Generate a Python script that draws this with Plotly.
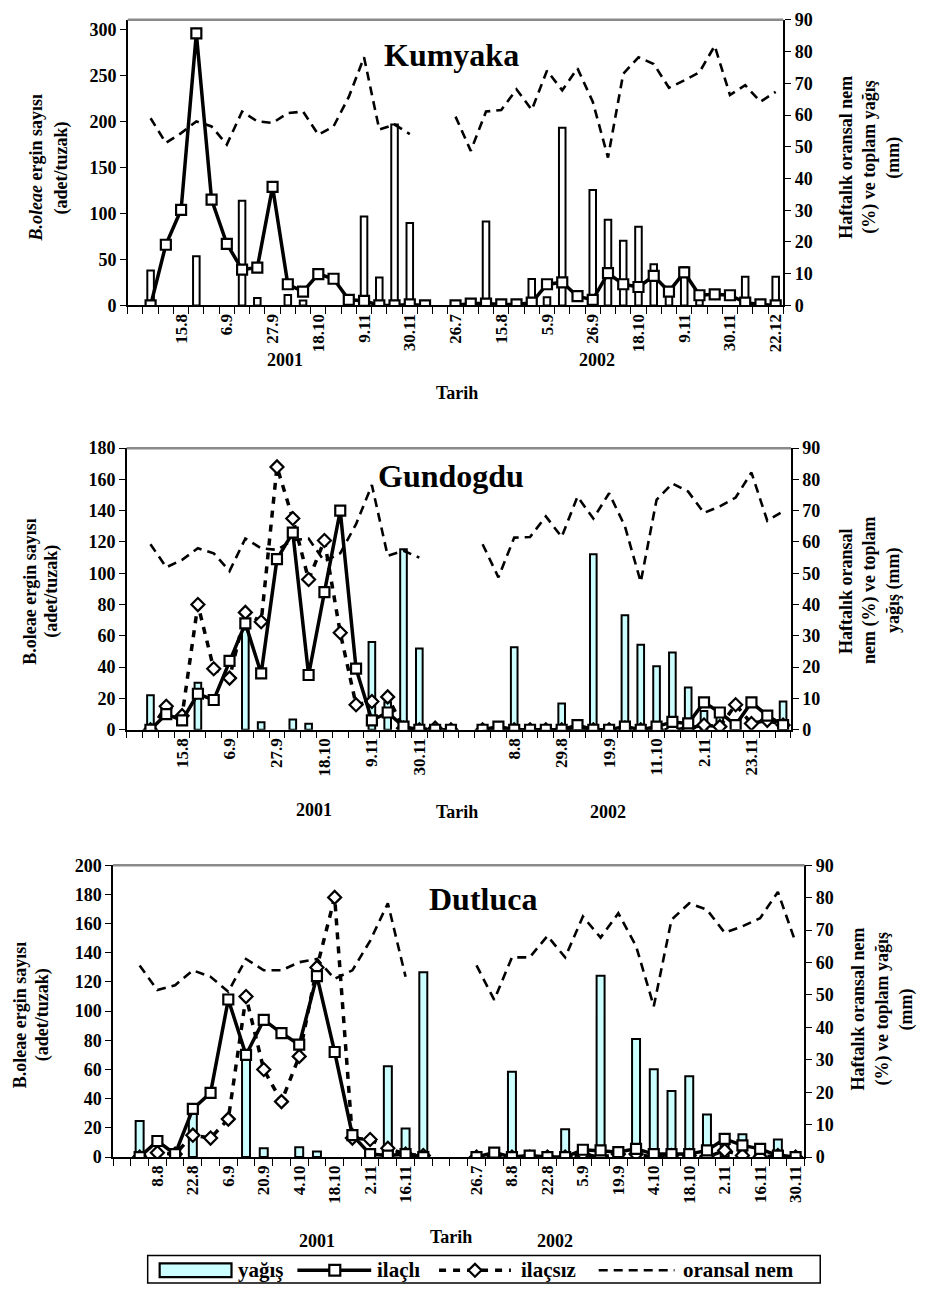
import plotly.graph_objects as go

FONT = "Liberation Serif, Times New Roman, serif"
W, H = 932, 1297

# ---------------- data ----------------
# Kumyaka (2001: 19 weeks, 2002: 22 weeks)
k_lab_2001 = ["", "", "15.8", "", "", "6.9", "", "", "27.9", "", "", "18.10", "", "", "9.11", "", "", "30.11", ""]
k_lab_2002 = ["26.7", "", "", "15.8", "", "", "5.9", "", "", "26.9", "", "", "18.10", "", "", "9.11", "", "", "30.11", "", "", "22.12"]
k_ilacli_2001 = [0, 66, 104, 296, 115, 67, 39, 41, 129, 23, 15, 34, 29, 6, 5, 0, 0, 1, 0]
k_ilacli_2002 = [0, 2, 2, 1, 1, 3, 23, 25, 10, 6, 35, 23, 20, 32, 15, 36, 11, 12, 11, 3, 1, 0]
k_yagis_2001 = [11, 0, 0, 15.5, 0, 0, 33, 2.3, 0, 3.3, 1.5, 0, 0, 0, 28, 8.8, 57, 26, 0]
k_yagis_2002 = [0, 0, 26.4, 0, 0, 8.3, 2.6, 56, 0, 36.4, 27, 20.4, 24.8, 13, 5, 12, 2, 0, 0, 9, 0, 9]
k_nem_2001 = [59, 51.2, 54.3, 58, 56.4, 50.7, 61.1, 58, 57.5, 60.6, 61.1, 53.8, 56.4, 65.7, 78.2, 55.4, 57, 54, None]
k_nem_2002 = [59.5, 48.7, 61.1, 61.6, 68.1, 61.6, 74, 67.8, 74.7, 64.2, 46.6, 73, 78.2, 76.1, 68.6, 70.9, 73.5, 81.8, 66.3, 69.4, 64.2, 67.3]

# Gundogdu (2001: 20 weeks, 2002: 20 weeks)
g_lab_2001 = ["", "", "15.8", "", "", "6.9", "", "", "27.9", "", "", "18.10", "", "", "9.11", "", "", "30.11", "", ""]
g_lab_2002 = ["", "", "8.8", "", "", "29.8", "", "", "19.9", "", "", "11.10", "", "", "2.11", "", "", "23.11", "", ""]
g_ilacli_2001 = [0, 10, 6, 23, 19, 44, 68, 36, 109, 126, 35, 88, 140, 39, 6, 11, 2, 0, 0, 0]
g_ilacli_2002 = [0, 2, 0, 0, 0, 0, 3, 0, 0, 2, 0, 2, 5, 4, 17.5, 11, 3, 17.5, 9, 3]
g_ilacsiz_2001 = [0, 15, 9, 80, 39, 33, 75, 69, 168, 135, 96, 121, 62, 16, 18, 21, 1, 0, 1, 0]
g_ilacsiz_2002 = [0, 0, 0, 0, 0, 0, 0, 0, 0, 1, 0, 0, 0, 1, 3, 2, 16, 4, 6, 3]
g_yagis_2001 = [11, 0, 0, 15, 0, 0, 32, 2.4, 0, 3.3, 1.9, 0, 0, 0, 28, 8.8, 57.7, 26, 0, 0]
g_yagis_2002 = [0, 2, 26.4, 0, 0, 8.4, 2.2, 56.1, 0, 36.6, 27.2, 20.3, 24.7, 13.5, 6, 5, 0, 0, 0, 9]
g_nem_2001 = [59.3, 51.9, 54.3, 58, 56.4, 50.7, 61.1, 58, 57.5, 60.6, 61.1, 53.8, 56.4, 65.7, 78.2, 55.6, 57.2, 55, None, None]
g_nem_2002 = [59.3, 48.7, 61.4, 61.6, 68.2, 61.6, 74.5, 67.5, 75.6, 65, 47.2, 73.5, 78.7, 76.1, 69.3, 71.4, 74.2, 82.2, 66.8, 69.8]

# Dutluca (2001: 17 weeks, 2002: 19 weeks)
d_lab_2001 = ["", "8.8", "", "22.8", "", "6.9", "", "20.9", "", "4.10", "", "18.10", "", "2.11", "", "16.11", ""]
d_lab_2002 = ["26.7", "", "8.8", "", "22.8", "", "5.9", "", "19.9", "", "4.10", "", "18.10", "", "2.11", "", "16.11", "", "30.11"]
d_ilacli_2001 = [0, 11, 2, 33, 44, 108, 70, 94, 85, 77, 124, 72, 15, 2, 1, 2, 0]
d_ilacli_2002 = [0, 3, 0, 1, 0, 0, 5, 4.5, 3.4, 5.6, 2, 2, 2, 4.5, 12.4, 8, 5.6, 1, 0]
d_ilacsiz_2001 = [0, 3, 2, 15, 13, 26, 110, 60, 38, 69, 130, 178, 13, 12, 6, 2, 1]
d_ilacsiz_2002 = [0, 0, 0, 0, 0, 0, 2, 0, 2, 2, 0, 1, 1, 0, 4.5, 1, 0, 1, 0]
d_yagis_2001 = [11.1, 0, 0, 15, 0, 0, 32.3, 2.7, 0, 3, 1.7, 0, 0, 0, 28, 8.8, 57]
d_yagis_2002 = [0, 0, 26.3, 0, 0, 8.6, 2, 55.9, 0, 36.4, 27.1, 20.4, 24.9, 13.1, 7, 7, 3.5, 5.4, 0]
d_nem_2001 = [59.1, 51.5, 53, 57.6, 55.6, 51, 61.1, 57.6, 57.6, 60.1, 61.1, 55, 57.6, 66.7, 78.3, 55.6, None]
d_nem_2002 = [59.1, 48.5, 61.6, 61.6, 68.2, 61.6, 74.2, 67.7, 75.2, 65.1, 46.5, 73.2, 78.3, 76.3, 69.2, 71.2, 73.7, 81.8, 66.2]

legend_names = ["yağış", "ilaçlı", "ilaçsız", "oransal nem"]

# ---------------- helpers ----------------
def join(a, b, gap):
    return [None] + list(a) + [None] * gap + list(b)

def bars(v):
    return [x if x else None for x in v]

panels = [
    dict(title="Kumyaka", lab=(k_lab_2001, k_lab_2002), gap=1,
         ilacli=(k_ilacli_2001, k_ilacli_2002), ilacsiz=None,
         yagis=(k_yagis_2001, k_yagis_2002), nem=(k_nem_2001, k_nem_2002),
         box=(128, 785, 10, 300), lmax=310.7, ldt=50, fill="white", bw=0.43,
         title_xy=(452, 46), italic=True,
         ltitle=(36, 62, 160), rtitle=(["Haftalık oransal nem", "(%) ve toplam yağış", "(mm)"], (848, 872, 896), 150),
         years=((286, 355), (458, 389), (598, 355))),
    dict(title="Gundogdu", lab=(g_lab_2001, g_lab_2002), gap=1,
         ilacli=(g_ilacli_2001, g_ilacli_2002), ilacsiz=(g_ilacsiz_2001, g_ilacsiz_2002),
         yagis=(g_yagis_2001, g_yagis_2002), nem=(g_nem_2001, g_nem_2002),
         box=(127, 792.7, 445, 731), lmax=180, ldt=20, fill="#CCFFFF", bw=0.42,
         title_xy=(452, 473), italic=False,
         ltitle=(30, 52, 590), rtitle=(["Haftalık oransal", "nem (%) ve toplam", "yağış (mm)"], (848, 872, 896), 590),
         years=((315, 813), (458, 815), (609, 815))),
    dict(title="Dutluca", lab=(d_lab_2001, d_lab_2002), gap=2,
         ilacli=(d_ilacli_2001, d_ilacli_2002), ilacsiz=(d_ilacsiz_2001, d_ilacsiz_2002),
         yagis=(d_yagis_2001, d_yagis_2002), nem=(d_nem_2001, d_nem_2002),
         box=(113.3, 806.2, 868.7, 1165), lmax=200, ldt=20, fill="#CCFFFF", bw=0.45,
         title_xy=(484, 903), italic=False,
         ltitle=(20, 42, 1020), rtitle=(["Haftalık oransal nem", "(%) ve toplam yağış", "(mm)"], (860, 884, 908), 1015),
         years=((318, 1250), (452, 1246), (556, 1250))),
]

fig = go.Figure()
annotations = []
shapes = []
xtickfont = dict(family=FONT, size=17, color="black", weight="bold")
ytickfont = dict(family=FONT, size=18, color="black", weight="bold")

def px(x):
    return x / W

def py(y):
    return 1 - y / H

for p, P in enumerate(panels):
    xa = "x" if p == 0 else f"x{p+1}"
    yr = "y" if p == 0 else f"y{2*p+1}"
    yl = f"y{2*p+2}"
    cats = join(P["lab"][0], P["lab"][1], P["gap"])
    cats[0] = ""
    xs = list(range(len(cats)))

    fig.add_trace(go.Bar(x=xs, y=bars(join(*P["yagis"], P["gap"])), xaxis=xa, yaxis=yr,
                         width=P["bw"], name=legend_names[0], showlegend=False,
                         marker=dict(color=P["fill"], line=dict(color="black", width=2))))
    fig.add_trace(go.Scatter(x=xs, y=join(*P["nem"], P["gap"]), xaxis=xa, yaxis=yr, mode="lines",
                             name=legend_names[3], showlegend=False,
                             line=dict(color="black", width=2.6, dash="9px,6px")))
    if P["ilacsiz"] is not None:
        fig.add_trace(go.Scatter(x=xs, y=join(*P["ilacsiz"], P["gap"]), xaxis=xa, yaxis=yl,
                                 mode="lines+markers", name=legend_names[2], showlegend=False,
                                 line=dict(color="black", width=3.5, dash="7px,7px"),
                                 marker=dict(symbol="diamond", size=10, color="white",
                                             line=dict(color="black", width=2.2))))
    fig.add_trace(go.Scatter(x=xs, y=join(*P["ilacli"], P["gap"]), xaxis=xa, yaxis=yl,
                             mode="lines+markers", name=legend_names[1], showlegend=False,
                             line=dict(color="black", width=3.5),
                             marker=dict(symbol="square", size=10, color="white",
                                         line=dict(color="black", width=2.2))))

    x0, x1, ytop, ybot = P["box"]
    xkey = "xaxis" if p == 0 else f"xaxis{p+1}"
    yrkey = "yaxis" if p == 0 else f"yaxis{2*p+1}"
    ylkey = f"yaxis{2*p+2}"
    tv = [i for i, c in enumerate(cats) if c]
    tt = [cats[i] for i in tv]
    fig.layout[xkey] = dict(domain=[px(x0), px(x1)], anchor=yr, range=[-0.5, len(cats) - 0.5],
                            tickmode="array", tickvals=tv, ticktext=tt, tickangle=-90,
                            ticks="", showline=True, linecolor="black", linewidth=1.5,
                            showgrid=False, zeroline=False, tickfont=xtickfont,
                            minor=dict(ticks="outside", tickmode="linear", tick0=0.5, dtick=1,
                                       ticklen=7, tickcolor="black", tickwidth=1.3, showgrid=False))
    fig.layout[yrkey] = dict(domain=[py(ybot), py(ytop)], anchor=xa, side="right",
                             range=[0, 90], tickmode="linear", tick0=0, dtick=10,
                             ticks="outside", ticklen=6, tickcolor="black", tickwidth=1.3,
                             showline=True, linecolor="black", linewidth=1.5,
                             showgrid=False, zeroline=False, tickfont=ytickfont)
    fig.layout[ylkey] = dict(overlaying=yr, anchor=xa, side="left",
                             range=[0, P["lmax"]], tickmode="linear", tick0=0, dtick=P["ldt"],
                             ticks="outside", ticklen=6, tickcolor="black", tickwidth=1.3,
                             showline=True, linecolor="black", linewidth=1.5,
                             showgrid=False, zeroline=False, tickfont=ytickfont)
    shapes.append(dict(type="line", xref=f"{xa} domain", yref=f"{yr} domain",
                       x0=0, x1=1, y0=1, y1=1, line=dict(color="#8a8a8a", width=2.5)))

    tx, ty = P["title_xy"]
    annotations.append(dict(text=f"<b>{P['title']}</b>", x=px(tx), y=py(ty), xref="paper", yref="paper",
                            showarrow=False, xanchor="center", yanchor="middle",
                            font=dict(family=FONT, size=32, color="black")))
    lx1, lx2, lyc = P["ltitle"]
    t1 = "<b><i>B.oleae</i> ergin sayısı</b>" if P["italic"] else "<b>B.oleae ergin sayısı</b>"
    for txt, lx in ((t1, lx1), ("<b>(adet/tuzak)</b>", lx2)):
        annotations.append(dict(text=txt, x=px(lx), y=py(lyc), xref="paper", yref="paper",
                                showarrow=False, textangle=-90, xanchor="center", yanchor="middle",
                                font=dict(family=FONT, size=18, color="black")))
    rlines, rxs, ryc = P["rtitle"]
    for txt, rx in zip(rlines, rxs):
        annotations.append(dict(text=f"<b>{txt}</b>", x=px(rx), y=py(ryc), xref="paper", yref="paper",
                                showarrow=False, textangle=-90, xanchor="center", yanchor="middle",
                                font=dict(family=FONT, size=18, color="black")))
    for txt, (ax, ay) in zip(("2001", "Tarih", "2002"), P["years"]):
        annotations.append(dict(text=f"<b>{txt}</b>", x=px(ax), y=py(ay), xref="paper", yref="paper",
                                showarrow=False, xanchor="center", yanchor="middle",
                                font=dict(family=FONT, size=18, color="black")))

# ---------------- hand-drawn legend box (paper coordinates) ----------------
LY = 1280
shapes.append(dict(type="rect", xref="paper", yref="paper", x0=px(148), x1=px(822), y0=py(1293), y1=py(1265),
                   line=dict(color="black", width=1.5), fillcolor="white", layer="below"))
shapes.append(dict(type="rect", xref="paper", yref="paper", x0=px(160), x1=px(232), y0=py(1287), y1=py(1273),
                   line=dict(color="black", width=2.2), fillcolor="#CCFFFF"))
shapes.append(dict(type="line", xref="paper", yref="paper", x0=px(298), x1=px(372), y0=py(LY), y1=py(LY),
                   line=dict(color="black", width=3.5)))
shapes.append(dict(type="rect", xref="paper", yref="paper", x0=px(330), x1=px(341), y0=py(LY + 5.5), y1=py(LY - 5.5),
                   line=dict(color="black", width=2.2), fillcolor="white"))
shapes.append(dict(type="line", xref="paper", yref="paper", x0=px(440), x1=px(512), y0=py(LY), y1=py(LY),
                   line=dict(color="black", width=3.5, dash="7px,7px")))
dx, d = 476, 6.5
shapes.append(dict(type="path", xref="paper", yref="paper",
                   path=f"M {px(dx - d)},{py(LY)} L {px(dx)},{py(LY - d)} L {px(dx + d)},{py(LY)} L {px(dx)},{py(LY + d)} Z",
                   line=dict(color="black", width=2.2), fillcolor="white"))
shapes.append(dict(type="line", xref="paper", yref="paper", x0=px(600), x1=px(676), y0=py(LY), y1=py(LY),
                   line=dict(color="black", width=2.6, dash="9px,6px")))
for txt, lx in zip(legend_names, (237, 376, 520, 682)):
    annotations.append(dict(text=f"<b>{txt}</b>", x=px(lx), y=py(LY), xref="paper", yref="paper",
                            showarrow=False, xanchor="left", yanchor="middle",
                            font=dict(family=FONT, size=21, color="black")))

fig.update_layout(
    width=W, height=H, autosize=False,
    margin=dict(l=0, r=0, t=0, b=0),
    paper_bgcolor="white", plot_bgcolor="white",
    barmode="overlay", showlegend=False,
    annotations=annotations, shapes=shapes,
)

fig.write_html("out.html", config={"displayModeBar": False},
               post_script="document.body.style.margin='0';document.body.style.overflow='hidden';")
